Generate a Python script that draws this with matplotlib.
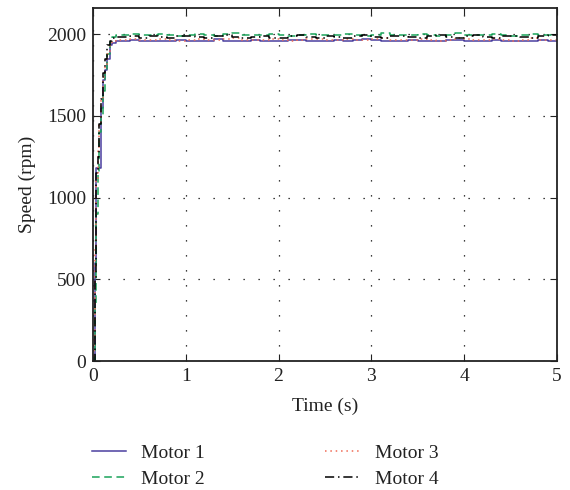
import numpy as np
import matplotlib
matplotlib.use("Agg")
import matplotlib.pyplot as plt

plt.rcParams['font.family'] = ['Liberation Serif', 'DejaVu Serif']
plt.rcParams['font.size'] = 14

# Time samples (s): start-up transient, then steady operation every 0.1 s
t_ramp = [0, 0.01, 0.02, 0.03, 0.05, 0.07, 0.09, 0.11, 0.13, 0.15, 0.18, 0.21, 0.25]
t_steady = [round(0.3 + 0.1 * k, 2) for k in range(48)]
time = t_ramp + t_steady

# Motor speeds (rpm)
m1_ramp = [0, 0, 600, 1180, 1180, 1180, 1550, 1720, 1780, 1850, 1930, 1945, 1960]
m2_ramp = [0, 0, 350, 900, 1150, 1400, 1500, 1650, 1760, 1880, 1950, 1980, 1995]
m3_ramp = [0, 150, 700, 1100, 1300, 1450, 1600, 1740, 1800, 1880, 1940, 1955, 1965]
m4_ramp = [0, 0, 500, 1150, 1250, 1450, 1600, 1760, 1850, 1930, 1960, 1975, 1980]

m1_steady = [1960, 1962, 1958, 1955, 1958, 1960, 1962, 1958,
             1955, 1960, 1968, 1960, 1955, 1958, 1962, 1958,
             1955, 1960, 1965, 1962, 1958, 1955, 1960, 1962,
             1958, 1965, 1970, 1962, 1958, 1955, 1960, 1962,
             1958, 1955, 1960, 1965, 1962, 1958, 1955, 1960,
             1962, 1958, 1955, 1958, 1960, 1962, 1958, 1955]
m2_steady = [1995, 1998, 1992, 1996, 2000, 1994, 1990, 1996,
             2002, 1995, 1990, 1998, 2004, 1996, 1992, 1995,
             2000, 1994, 1990, 1996, 2003, 1997, 1992, 1995,
             2001, 1994, 1990, 1997, 2004, 1995, 1991, 1996,
             2002, 1996, 1990, 1995, 2004, 1997, 1992, 1996,
             2001, 1994, 1990, 1996, 2003, 1996, 1992, 1995]
m3_steady = [1965, 1968, 1962, 1966, 1970, 1964, 1960, 1966,
             1972, 1965, 1962, 1968, 1974, 1966, 1962, 1965,
             1970, 1964, 1960, 1966, 1972, 1967, 1962, 1965,
             1971, 1964, 1962, 1967, 1974, 1965, 1961, 1966,
             1972, 1966, 1960, 1965, 1974, 1967, 1962, 1966,
             1971, 1964, 1960, 1966, 1973, 1966, 1962, 1965]
m4_steady = [1982, 1985, 1978, 1988, 1980, 1975, 1986, 1990,
             1980, 1976, 1985, 1992, 1982, 1976, 1984, 1990,
             1978, 1974, 1986, 1992, 1980, 1976, 1988, 1984,
             1978, 1990, 1994, 1982, 1976, 1986, 1990, 1980,
             1975, 1988, 1994, 1984, 1978, 1986, 1992, 1980,
             1976, 1988, 1990, 1982, 1976, 1986, 1992, 1984]

motor1 = m1_ramp + m1_steady
motor2 = m2_ramp + m2_steady
motor3 = m3_ramp + m3_steady
motor4 = m4_ramp + m4_steady

x_ticks = [0, 1, 2, 3, 4, 5]
y_ticks = [0, 500, 1000, 1500, 2000]

fig = plt.figure(figsize=(5.7, 4.9), dpi=100)
ax = fig.add_axes([0.163, 0.263, 0.814, 0.721])

ax.plot(time, motor1, color='#4a3f9f', lw=1.1, ls='-', drawstyle='steps-post', label='Motor 1')
ax.plot(time, motor2, color='#1aa35a', lw=1.1, ls=(0, (5, 3)), drawstyle='steps-post', label='Motor 2')
ax.plot(time, motor3, color='#f06a55', lw=1.1, ls=(0, (1, 2.5)), drawstyle='steps-post', label='Motor 3')
ax.plot(time, motor4, color='black', lw=1.1, ls=(0, (6, 2.5, 1, 2.5)), drawstyle='steps-post', label='Motor 4')

ax.set_xlim(0, 5)
ax.set_ylim(0, 2160)
ax.set_xticks(x_ticks)
ax.set_yticks(y_ticks)
ax.grid(True, color='black', linestyle=(0, (1, 11)), linewidth=0.9)
ax.tick_params(direction='in', top=True, right=True, length=5, width=0.8,
               labelsize=14, colors='#222222', pad=5)
for sp in ax.spines.values():
    sp.set_linewidth(1.3)
    sp.set_color('#222222')

ax.set_xlabel('Time (s)', fontsize=14, color='#222222', labelpad=9)
ax.set_ylabel('Speed (rpm)', fontsize=14, color='#222222', labelpad=8)

fig.legend(loc='upper center', bbox_to_anchor=(0.465, 0.121), ncol=2, frameon=False,
           fontsize=14, handlelength=1.75, columnspacing=6.2, labelspacing=0.42,
           handletextpad=0.8, labelcolor='#222222', borderpad=0.2)

fig.savefig('out.png', dpi=100)
